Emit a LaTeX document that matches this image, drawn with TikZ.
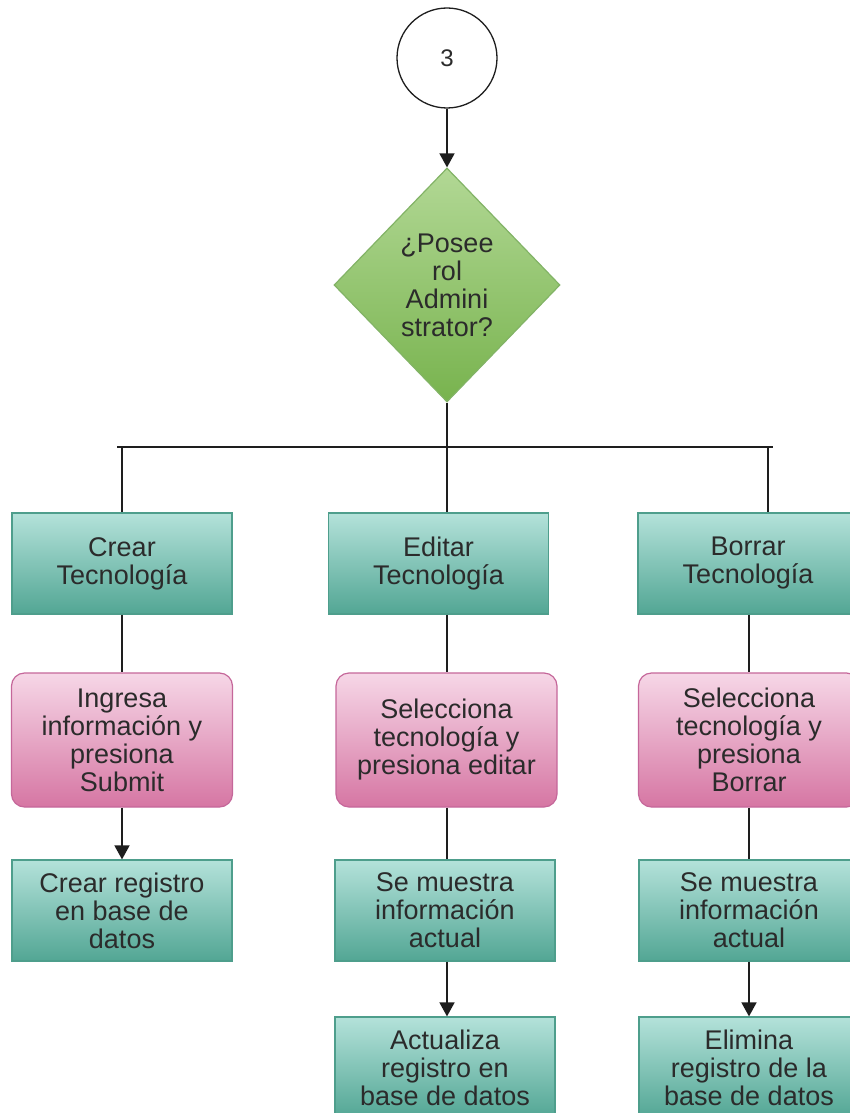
\documentclass[tikz,border=0pt]{standalone}
\usepackage{fontspec}
\setmainfont{Liberation Sans}
\usetikzlibrary{shapes.geometric,arrows.meta}
\definecolor{tealtop}{HTML}{B4E2DA}
\definecolor{tealbot}{HTML}{52A694}
\definecolor{tealline}{HTML}{4E9E8C}
\definecolor{pinktop}{HTML}{F6D7E7}
\definecolor{pinkbot}{HTML}{D676A3}
\definecolor{pinkline}{HTML}{C5679A}
\definecolor{greentop}{HTML}{B2D895}
\definecolor{greenbot}{HTML}{78B34E}
\definecolor{greenline}{HTML}{82B366}
\definecolor{ink}{HTML}{2B2B2B}
\definecolor{wire}{HTML}{1E1E1E}

\begin{document}
\begin{tikzpicture}[x=1pt,y=-1pt,
  every node/.style={text=ink, align=center, inner sep=0pt},
  body/.style={font=\fontsize{27}{28}\selectfont},
  proc/.style={body, rectangle, draw=tealline, line width=1.2pt, top color=tealtop, bottom color=tealbot,
    minimum width=220pt, minimum height=101pt},
  act/.style={body, rectangle, rounded corners=13pt, draw=pinkline, line width=1.2pt, top color=pinktop,
    bottom color=pinkbot, minimum width=221pt, minimum height=134pt},
  decision/.style={body, diamond, draw=greenline, line width=1.2pt, top color=greentop, bottom color=greenbot,
    minimum width=226pt, minimum height=234pt, aspect=0.966},
  connector/.style={circle, draw=wire, line width=1.3pt, fill=white, minimum size=100pt,
    font=\fontsize{24}{26}\selectfont},
  wireline/.style={draw=wire, line width=1.6pt},
  flow/.style={wireline, -{Triangle[length=14pt,width=15pt]}}
]
\useasboundingbox (0,0) rectangle (850,1113);
\clip (0,0) rectangle (850,1113);

% entry connector and decision
\node[connector] (start) at (447,58) {3};
\node[decision] (dec) at (447,285) {¿Posee\\rol\\Admini\\strator?};

% first row: the three actions
\node[proc] (crear)  at (122,563.5)   {Crear\\Tecnología};
\node[proc] (editar) at (438.5,563.5) {Editar\\Tecnología};
\node[proc] (borrar) at (748,563.5)   {Borrar\\Tecnología};

% user steps
\node[act] (ingresa) at (122,740)   {Ingresa\\información y\\presiona\\Submit};
\node[act] (selEd)   at (446.5,740) {Selecciona\\tecnología y\\presiona editar};
\node[act] (selBo)   at (749,740)   {Selecciona\\tecnología y\\presiona\\Borrar};

% system steps
\node[proc] (registro)  at (122,910.5) {Crear registro\\en base de\\datos};
\node[proc] (muestraEd) at (445,910.5) {Se muestra\\información\\actual};
\node[proc] (muestraBo) at (749,910.5) {Se muestra\\información\\actual};
\node[proc] (actualiza) at (445,1067.5) {Actualiza\\registro en\\base de datos};
\node[proc] (elimina)   at (749,1067.5) {Elimina\\registro de la\\base de datos};

% branching bus
\coordinate (busL) at (117,447);
\coordinate (busR) at (773,447);
\coordinate (tapR) at (768,447);

\draw[flow] (start.south) -- (dec.north);
\draw[wireline] (busL) -- (busR);
\draw[wireline] (dec.south) -- (editar.north -| dec.south);
\draw[wireline] (crear.north |- busL) -- (crear.north);
\draw[wireline] (tapR) -- (tapR |- borrar.north);

% left column
\draw[wireline] (crear.south) -- (ingresa.north);
\draw[flow] (ingresa.south) -- (registro.north);

% middle column
\draw[wireline] (editar.south -| dec.south) -- (selEd.north -| dec.south);
\draw[wireline] (selEd.south -| dec.south) -- (muestraEd.north -| dec.south);
\draw[flow] (muestraEd.south -| dec.south) -- (actualiza.north -| dec.south);

% right column
\draw[wireline] (borrar.south -| selBo.north) -- (selBo.north);
\draw[wireline] (selBo.south) -- (muestraBo.north);
\draw[flow] (muestraBo.south) -- (elimina.north);
\end{tikzpicture}
\end{document}
